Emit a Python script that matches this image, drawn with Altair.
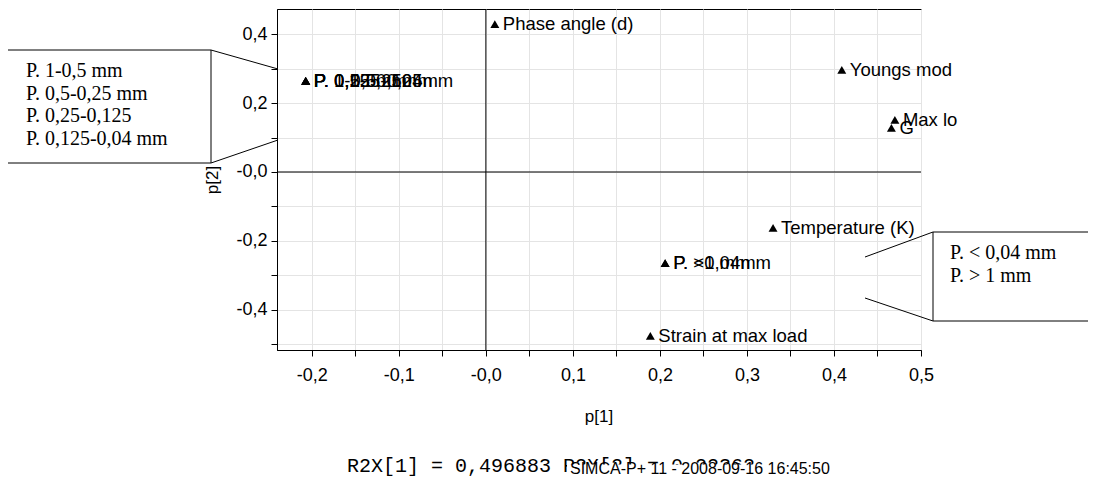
import altair as alt
import pandas as pd
import numpy as np

# ---- data ----
labels = ["Phase angle (d)", "P. 1-0,5mm", "P. 0,5-0,25mm", "P. 0,25-0,125", "P. 0,125-0,04mm",
          "Youngs mod", "Max lo", "G", "Temperature (K)", "P. <0,04mm", "P. >1 mm",
          "Strain at max load"]
p1 = [0.0103, -0.207, -0.207, -0.207, -0.207, 0.409, 0.470, 0.466, 0.330, 0.206, 0.206, 0.189]
p2 = [0.429, 0.264, 0.264, 0.264, 0.264, 0.296, 0.151, 0.128, -0.162, -0.264, -0.264, -0.475]

box1_lines = ["P. 1-0,5 mm", "P. 0,5-0,25 mm", "P. 0,25-0,125", "P. 0,125-0,04 mm"]
box2_lines = ["P. < 0,04 mm", "P. > 1 mm"]
footer_main = "R2X[1] = 0,496883 R2X[2] = 0,22362"
footer_stamp = "SIMCA-P+ 11 - 2008-09-16 16:45:50"

x_domain = [-0.24, 0.5]
y_domain = [-0.516, 0.4725]
x_ticks = [float(round(v, 2)) for v in np.arange(-0.20, 0.501, 0.05)]
y_ticks = [float(round(v, 1)) for v in np.arange(-0.5, 0.401, 0.1)]

W, H = 644, 341
df = pd.DataFrame({"label": labels, "p1": p1, "p2": p2})

x_lab = ("abs(round(datum.value*100)) % 10 != 0 ? '' : "
         "(datum.value <= 0 ? '-' : '') + replace(format(abs(datum.value), '.1f'), '.', ',')")
y_lab = ("abs(round(datum.value*10)) % 2 != 0 ? '' : "
         "(datum.value <= 0 ? '-' : '') + replace(format(abs(datum.value), '.1f'), '.', ',')")

xs = alt.Scale(domain=x_domain, nice=False, zero=False)
ys = alt.Scale(domain=y_domain, nice=False, zero=False)

x_axis = alt.Axis(values=x_ticks, labelExpr=x_lab, grid=True, gridColor="#e4e4e4",
                  tickColor="black", domainColor="black", tickSize=6, labelPadding=10,
                  labelFontSize=18, labelFont="Liberation Sans", labelColor="black",
                  labelFlush=False, labelOverlap=False, title=None)
y_axis = alt.Axis(values=y_ticks, labelExpr=y_lab, grid=True, gridColor="#e4e4e4",
                  tickColor="black", domainColor="black", tickSize=6, labelPadding=4,
                  labelFontSize=18, labelFont="Liberation Sans", labelColor="black",
                  labelFlush=False, labelOverlap=False, title=None)

base = alt.Chart(df)
pts = base.mark_point(shape="triangle-up", filled=True, color="black", size=80, opacity=1).encode(
    x=alt.X("p1:Q", scale=xs, axis=x_axis),
    y=alt.Y("p2:Q", scale=ys, axis=y_axis),
)
txt = base.mark_text(align="left", baseline="middle", dx=8, fontSize=18.5,
                     font="Liberation Sans", color="black").encode(
    x=alt.X("p1:Q", scale=xs, axis=x_axis),
    y=alt.Y("p2:Q", scale=ys, axis=y_axis),
    text="label:N")

zero_df = pd.DataFrame({"v": [0.0]})
zx = alt.Chart(zero_df).mark_rule(color="black", strokeWidth=1).encode(
    x=alt.X("v:Q", scale=xs, axis=x_axis))
zy = alt.Chart(zero_df).mark_rule(color="black", strokeWidth=1).encode(
    y=alt.Y("v:Q", scale=ys, axis=y_axis))

# ---- annotations (pixel positions relative to plot origin) ----
one = pd.DataFrame({"a": [0]})
def rule(x1, y1, x2, y2):
    return alt.Chart(one).mark_rule(color="black", strokeWidth=1).encode(
        x=alt.value(x1), y=alt.value(y1), x2=alt.value(x2), y2=alt.value(y2))

def box(x1, y1, x2, y2):
    return alt.Chart(one).mark_rect(fill="white", stroke="black", strokeWidth=1).encode(
        x=alt.value(x1), y=alt.value(y1), x2=alt.value(x2), y2=alt.value(y2))

def label(t, x, y, size, font, angle=0, align="left"):
    kw = dict(align=align, baseline="middle", fontSize=size, font=font, color="black")
    if angle:
        kw["angle"] = angle
    return alt.Chart(one).mark_text(**kw).encode(
        x=alt.value(x), y=alt.value(y), text=alt.value(t))

ox, oy = 277, 9
ann = [
    box(7 - ox, 50 - oy, 211 - ox, 163 - oy),
    rule(211 - ox, 50 - oy, 278 - ox, 69 - oy),
    rule(211 - ox, 163 - oy, 278 - ox, 140 - oy),
    box(933 - ox, 232 - oy, 1092 - ox, 321 - oy),
    rule(865 - ox, 257 - oy, 933 - ox, 232 - oy),
    rule(865 - ox, 298 - oy, 933 - ox, 321 - oy),
]
for i, t in enumerate(box1_lines):
    ann.append(label(t, 26 - ox, [71, 94, 116, 139][i] - oy, 20, "Liberation Serif"))
for i, t in enumerate(box2_lines):
    ann.append(label(t, 950 - ox, [253, 276][i] - oy, 20, "Liberation Serif"))

ann.append(label("p[1]", 599 - ox, 417 - oy, 17, "Liberation Sans", align="center"))
ann.append(label("p[2]", 213 - ox, 180 - oy, 17, "Liberation Sans", angle=270, align="center"))
ann.append(label(footer_main, 347 - ox, 466 - oy, 20, "Liberation Mono"))
ann.append(alt.Chart(one).mark_rect(fill="white").encode(
    x=alt.value(567 - ox), y=alt.value(464.5 - oy), x2=alt.value(850 - ox), y2=alt.value(490 - oy)))
ann.append(label(footer_stamp, 570 - ox, 469 - oy, 16, "Liberation Sans"))

chart = alt.layer(pts, zx, zy, txt, *ann).properties(
    width=W, height=H,
    padding={"left": ox - 8, "top": oy - 8, "right": 1080 - (ox - 8) - W,
             "bottom": 490 - (oy - 8) - H},
    autosize=alt.AutoSizeParams(type="none"),
).configure_view(stroke="black", strokeWidth=1)

chart.save("out.html", embed_options={"renderer": "svg", "actions": False})
